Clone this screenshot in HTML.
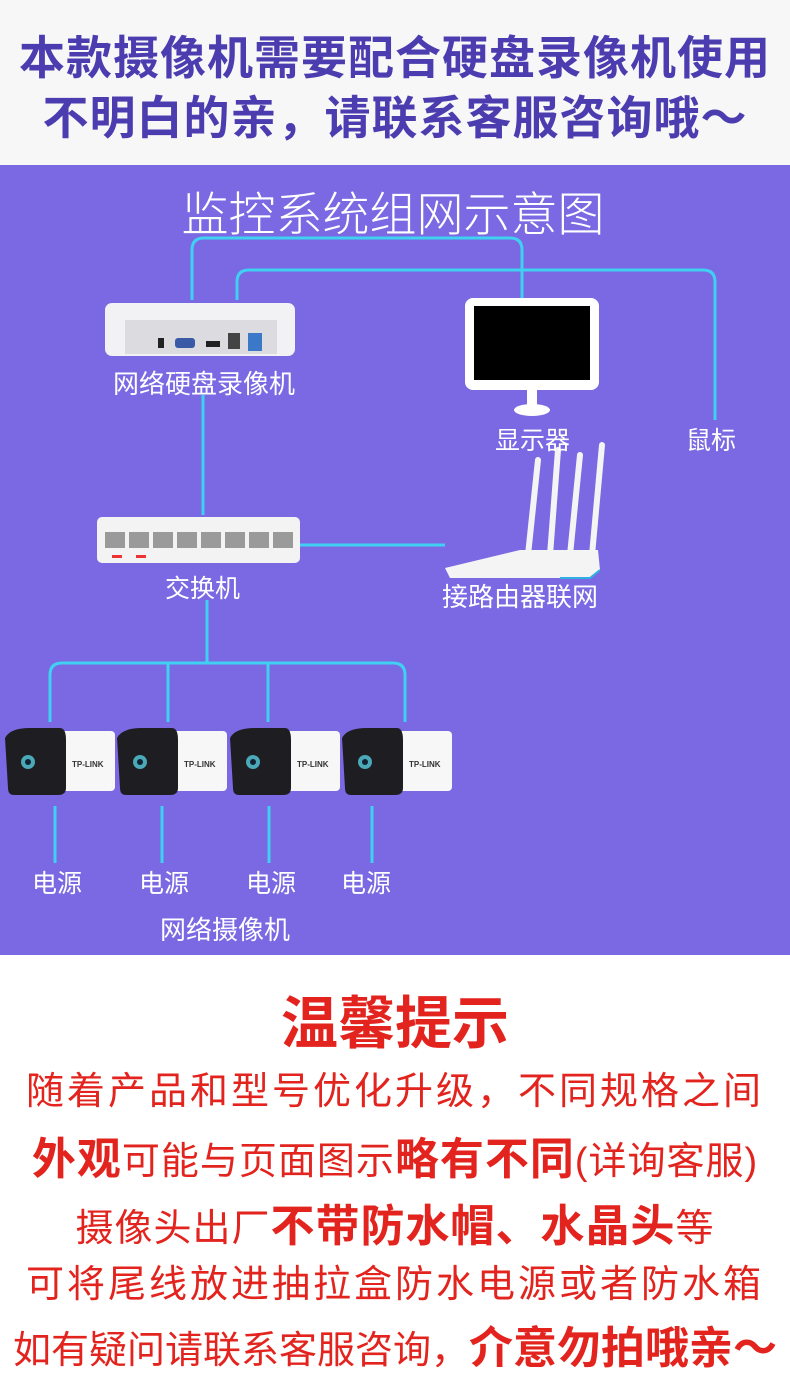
<!DOCTYPE html>
<html><head><meta charset="utf-8"><style>
*{margin:0;padding:0;box-sizing:border-box}
body{width:790px;height:1372px;position:relative;background:#fff;font-family:"Liberation Sans","Noto Sans CJK SC",sans-serif;overflow:hidden}
.a{position:absolute;white-space:nowrap}
.top{left:0;top:0;width:790px;height:165px;background:#f7f7f7}
.t1{left:0;width:790px;text-align:center;color:#4b3cb0;font-weight:bold;font-size:46px;letter-spacing:1px}
.purple{left:0;top:165px;width:790px;height:790px;background:#7b69e3}
.w{color:#fff;font-size:25px}
.r{left:0;width:790px;text-align:center;color:#e3231d;font-size:38px;letter-spacing:3px}
.r b{font-size:44px}
</style></head><body>
<div class="a top"></div>
<div class="a t1" style="top:22px">本款摄像机需要配合硬盘录像机使用</div>
<div class="a t1" style="top:82px">不明白的亲，请联系客服咨询哦～</div>
<div class="a purple"></div>
<div class="a" style="left:-2px;width:790px;text-align:center;top:176px;color:#fff;font-size:47px;font-weight:300">监控系统组网示意图</div>
<svg class="a" style="left:0;top:0" width="790" height="960">
<g fill="none" stroke="#3fd0f2" stroke-width="3">
<path d="M192 300 V250 Q192 238 204 238 H510 Q522 238 522 250 V298"/>
<path d="M237 300 V282 Q237 270 249 270 H703 Q715 270 715 282 V420"/>
<path d="M203 395 V515"/>
<path d="M300 545 H445"/>
<path d="M207 600 V663"/>
<path d="M50 722 V675 Q50 663 62 663 H393 Q405 663 405 675 V722"/>
<path d="M168 663 V722 M268 663 V722"/>
<path d="M55 806 V863 M162 806 V863 M269 806 V863 M372 806 V863"/>
</g>
<rect x="105" y="303" width="190" height="53" rx="7" fill="#f2f2f4"/>
<rect x="125" y="320" width="152" height="34" fill="#dcdce0"/>
<rect x="158" y="338" width="6" height="10" fill="#222"/>
<rect x="175" y="338" width="20" height="10" rx="3" fill="#3a5aa8"/>
<rect x="206" y="341" width="14" height="6" fill="#222"/>
<rect x="228" y="333" width="12" height="16" fill="#444"/>
<rect x="248" y="333" width="14" height="18" fill="#3b78c8"/>
<rect x="465" y="298" width="134" height="92" rx="8" fill="#fff"/>
<rect x="474" y="306" width="116" height="74" fill="#000"/>
<rect x="527" y="388" width="10" height="18" fill="#fff"/>
<ellipse cx="532" cy="410" rx="18" ry="6" fill="#fff"/>
<g stroke="#f4f4f4" stroke-width="6" stroke-linecap="round"><line x1="528" y1="555" x2="538" y2="460"/><line x1="550" y1="555" x2="558" y2="450"/><line x1="570" y1="555" x2="580" y2="455"/><line x1="592" y1="555" x2="602" y2="445"/></g>
<path d="M445 568 L520 550 H598 L600 570 L590 578 H450 Z" fill="#f4f4f4"/>
<path d="M560 578 H590 L600 570" stroke="#2fb0e0" stroke-width="2" fill="none"/>
<rect x="97" y="517" width="203" height="46" rx="5" fill="#f3f3f3"/>
<g fill="#9a9a9a">
<rect x="105" y="532" width="20" height="16"/><rect x="129" y="532" width="20" height="16"/><rect x="153" y="532" width="20" height="16"/><rect x="177" y="532" width="20" height="16"/><rect x="201" y="532" width="20" height="16"/><rect x="225" y="532" width="20" height="16"/><rect x="249" y="532" width="20" height="16"/><rect x="273" y="532" width="20" height="16"/></g>
<rect x="112" y="555" width="10" height="3" fill="#e33"/><rect x="136" y="555" width="10" height="3" fill="#e33"/>
<g id="c">
<rect x="60" y="731" width="55" height="60" rx="4" fill="#f7f7f7"/>
<path d="M5 738 Q10 728 30 728 H60 Q66 728 66 740 V788 Q66 795 58 795 H14 Q8 795 8 788 Z" fill="#1e1e22"/>
<circle cx="28" cy="762" r="7" fill="#4aa8b8"/><circle cx="28" cy="762" r="3" fill="#123"/>
<text x="72" y="767" font-size="8" font-weight="bold" fill="#333" font-family="Liberation Sans">TP-LINK</text>
</g>
<use href="#c" x="112"/><use href="#c" x="225"/><use href="#c" x="337"/>
</svg>
<div class="a w" style="left:113px;top:364px;font-size:26px">网络硬盘录像机</div>
<div class="a w" style="left:495px;top:421px">显示器</div>
<div class="a w" style="left:686px;top:421px">鼠标</div>
<div class="a w" style="left:165px;top:569px">交换机</div>
<div class="a w" style="left:442px;top:577px;font-size:26px">接路由器联网</div>
<div class="a w" style="left:32px;top:864px">电源</div>
<div class="a w" style="left:139px;top:864px">电源</div>
<div class="a w" style="left:246px;top:864px">电源</div>
<div class="a w" style="left:341px;top:864px">电源</div>
<div class="a w" style="left:160px;top:910px;font-size:26px">网络摄像机</div>
<div class="a" style="left:0;width:790px;text-align:center;top:978px;color:#e3231d;font-size:57px;font-weight:bold">温馨提示</div>
<div class="a r" style="top:1060px">随着产品和型号优化升级，不同规格之间</div>
<div class="a r" style="top:1123px;letter-spacing:1px"><b>外观</b>可能与页面图示<b>略有不同</b>(详询客服)</div>
<div class="a r" style="top:1190px;letter-spacing:1px">摄像头出厂<b>不带防水帽、水晶头</b>等</div>
<div class="a r" style="top:1253px">可将尾线放进抽拉盒防水电源或者防水箱</div>
<div class="a r" style="top:1312px;letter-spacing:0">如有疑问请联系客服咨询，<b>介意勿拍哦亲～</b></div>
</body></html>
